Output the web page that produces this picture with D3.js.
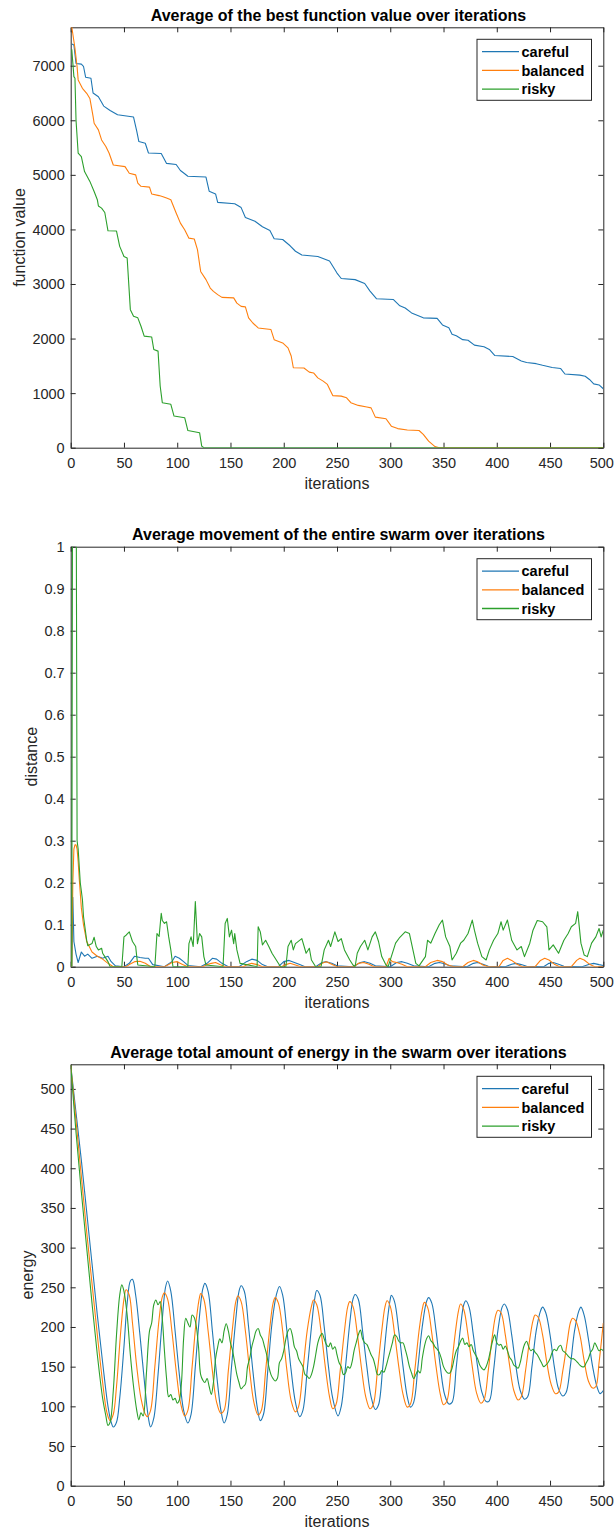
<!DOCTYPE html>
<html>
<head>
<meta charset="utf-8">
<script src="https://cdn.jsdelivr.net/npm/d3@7"></script>
<style>
  body { margin: 0; background: #fff; }
  svg { display: block; font-family: "Liberation Sans", Arial, Helvetica, sans-serif; }
</style>
</head>
<body>
<div id="chart"></div>
<script>
// series / legend
const seriesNames = ["careful", "balanced", "risky"];
const seriesColors = ["#1f77b4", "#ff7f0e", "#2ca02c"];

// tick labels
const iterTicks = [0, 50, 100, 150, 200, 250, 300, 350, 400, 450, 500];
const fnTicks = [0, 1000, 2000, 3000, 4000, 5000, 6000, 7000];
const distTicks = [0, 0.1, 0.2, 0.3, 0.4, 0.5, 0.6, 0.7, 0.8, 0.9, 1];
const energyTicks = [0, 50, 100, 150, 200, 250, 300, 350, 400, 450, 500];

// panel 1: best function value  [iteration, value]
const fnCareful = [[1,7400],[3,7380],[5,7040],[10,7030],[12,6990],[14,6790],[19,6770],[21,6500],[26,6430],[31,6260],[37,6180],[44,6100],[59,6060],[62,5800],[64,5610],[70,5580],[73,5400],[85,5390],[90,5210],[99,5190],[103,5080],[107,5020],[110,4975],[127,4960],[130,4700],[136,4650],[138,4495],[154,4470],[160,4400],[164,4220],[173,4150],[180,4050],[187,3980],[191,3830],[199,3815],[206,3700],[211,3600],[217,3530],[232,3505],[243,3420],[250,3200],[254,3100],[267,3080],[276,3010],[281,2870],[287,2730],[303,2715],[309,2600],[314,2560],[320,2470],[331,2380],[344,2370],[349,2250],[355,2200],[358,2080],[362,2050],[368,1980],[373,1970],[379,1880],[388,1850],[393,1800],[398,1690],[415,1670],[423,1590],[428,1560],[437,1540],[443,1510],[452,1470],[460,1450],[464,1350],[478,1330],[483,1310],[487,1250],[491,1170],[496,1150],[500,1080]];
const fnBalanced = [[1,7710],[4,7320],[6,6980],[7,6740],[11,6585],[15,6495],[18,6400],[21,6070],[22,5945],[26,5825],[29,5640],[33,5520],[36,5400],[40,5180],[51,5150],[55,5030],[61,5000],[63,4850],[66,4790],[74,4775],[76,4650],[83,4620],[86,4605],[90,4575],[94,4545],[99,4300],[103,4115],[107,3995],[111,3840],[116,3825],[119,3630],[122,3230],[127,3080],[131,2925],[134,2865],[138,2805],[142,2755],[153,2745],[156,2650],[160,2590],[164,2580],[167,2380],[171,2285],[176,2195],[188,2165],[191,1980],[199,1920],[204,1830],[207,1680],[209,1465],[219,1460],[224,1385],[228,1370],[232,1280],[237,1220],[241,1160],[246,955],[254,945],[259,915],[263,825],[270,775],[278,745],[282,730],[286,560],[296,530],[301,395],[307,350],[316,325],[327,315],[331,245],[336,120],[342,20],[346,0],[500,0]];
const fnRisky = [[1,7300],[3,6800],[4,6770],[5,6000],[7,5400],[10,5335],[13,5060],[15,4990],[18,4880],[22,4695],[25,4545],[26,4430],[29,4390],[32,4310],[35,3975],[43,3970],[46,3690],[50,3505],[53,3475],[56,2530],[59,2410],[63,2380],[66,2225],[69,2045],[76,2030],[78,1800],[82,1770],[84,1130],[86,825],[94,795],[97,580],[107,550],[110,315],[121,275],[123,30],[125,0],[500,0]];

// panel 2: swarm movement  [iteration, distance]
const distCareful = [[1,0],[2,0.165],[3,0.06],[5,0.03],[7,0.01],[10,0.035],[13,0.025],[16,0.03],[20,0.02],[25,0.025],[30,0.02],[35,0.025],[38,0.012],[42,0.002],[50,0],[55,0.008],[60,0.025],[65,0.022],[70,0.02],[73,0.02],[77,0.005],[88,0],[95,0.012],[98,0.025],[102,0.02],[106,0.012],[110,0.003],[122,0],[128,0.008],[133,0.02],[137,0.018],[142,0.008],[148,0],[158,0],[165,0.012],[170,0.018],[175,0.015],[180,0.005],[185,0],[195,0],[200,0.012],[205,0.015],[210,0.01],[215,0.005],[220,0],[230,0],[236,0.01],[240,0.012],[245,0.008],[250,0.002],[265,0],[272,0.01],[276,0.012],[281,0.008],[286,0.002],[300,0],[306,0.01],[311,0.012],[316,0.008],[322,0.002],[336,0],[342,0.008],[346,0.01],[351,0.007],[356,0.002],[372,0],[378,0.008],[382,0.01],[387,0.006],[392,0.001],[408,0],[414,0.006],[418,0.008],[423,0.005],[428,0.001],[444,0],[449,0.008],[453,0.01],[458,0.006],[463,0.001],[480,0],[487,0.006],[491,0.008],[496,0.005],[500,0.003]];
const distBalanced = [[1,0],[2,0.2],[3,0.28],[4,0.29],[5,0.29],[6,0.28],[7,0.25],[8,0.21],[10,0.14],[12,0.1],[15,0.06],[20,0.035],[25,0.025],[30,0.018],[35,0.008],[40,0],[52,0],[55,0.005],[60,0.012],[65,0.013],[70,0.008],[75,0],[88,0],[92,0.005],[95,0.01],[100,0.012],[105,0.005],[110,0],[124,0],[128,0.005],[132,0.008],[136,0.01],[140,0.005],[145,0],[162,0],[166,0.005],[170,0.008],[175,0.005],[180,0],[198,0],[202,0.005],[206,0.008],[211,0.004],[216,0],[232,0],[236,0.008],[240,0.012],[245,0.006],[250,0],[266,0],[270,0.008],[275,0.01],[280,0.006],[285,0],[296,0],[299,0.02],[302,0.012],[306,0.01],[311,0.006],[316,0],[333,0],[338,0.01],[344,0.015],[349,0.012],[354,0.004],[360,0],[368,0],[373,0.01],[378,0.015],[382,0.012],[387,0.004],[392,0],[402,0],[406,0.015],[410,0.02],[414,0.015],[419,0.006],[424,0],[436,0],[441,0.015],[445,0.02],[449,0.016],[454,0.006],[459,0],[470,0],[475,0.015],[478,0.02],[482,0.016],[487,0.006],[492,0],[500,0]];
const distRisky = [[1,0],[2,1.6],[3,1.8],[4,1.5],[5,1.3],[6,0.3],[7,0.28],[9,0.2],[11,0.16],[12,0.12],[15,0.063],[16,0.05],[20,0.055],[22,0.07],[24,0.048],[26,0.04],[29,0.044],[30,0.032],[32,0.024],[35,0.012],[37,0],[48,0],[50,0.071],[52,0.075],[55,0.083],[58,0.06],[61,0.048],[62,0.024],[63,0.004],[79,0],[81,0.079],[83,0.072],[85,0.127],[86,0.11],[88,0.103],[90,0.107],[92,0.071],[94,0.04],[96,0],[110,0],[111,0.055],[113,0.071],[115,0.048],[117,0.155],[119,0.055],[121,0.079],[123,0.071],[125,0.024],[127,0.004],[143,0],[145,0.103],[147,0.115],[149,0.071],[151,0.087],[153,0.055],[154,0.079],[156,0.04],[159,0.008],[175,0],[176,0.095],[178,0.083],[180,0.052],[183,0.063],[186,0.048],[189,0.032],[193,0.016],[197,0],[202,0],[204,0.048],[207,0.063],[209,0.04],[211,0.055],[217,0.067],[221,0.032],[224,0.044],[226,0.016],[230,0],[235,0],[238,0.04],[242,0.063],[244,0.048],[248,0.083],[251,0.06],[254,0.067],[257,0.04],[262,0.016],[265,0.004],[267,0],[269,0.032],[272,0.048],[276,0.063],[279,0.04],[283,0.071],[286,0.083],[289,0.06],[292,0.024],[296,0.004],[298,0],[301,0.024],[305,0.056],[309,0.07],[314,0.083],[318,0.079],[322,0.032],[324,0.008],[327,0.002],[333,0.024],[335,0.063],[338,0.056],[342,0.079],[346,0.1],[349,0.111],[352,0.071],[356,0.048],[358,0.016],[362,0.032],[366,0.056],[369,0.063],[373,0.079],[377,0.111],[379,0.087],[382,0.056],[386,0.024],[390,0.016],[393,0.04],[397,0.063],[401,0.079],[404,0.107],[406,0.087],[410,0.111],[414,0.063],[419,0.04],[423,0.048],[426,0.024],[431,0.056],[434,0.087],[438,0.11],[443,0.107],[447,0.095],[449,0.04],[453,0.052],[458,0.032],[463,0.063],[467,0.079],[470,0.095],[474,0.103],[476,0.131],[479,0.056],[482,0.028],[485,0.024],[489,0.056],[493,0.071],[496,0.091],[498,0.071],[500,0.087]];

// panel 3: swarm energy  [iteration, energy]
const energyCareful = [[0,530],[5,470],[10,410],[15,345],[20,280],[25,215],[30,155],[35,100],[38,80],[40,74],[43,80],[46,110],[50,175],[53,230],[56,258],[58,260],[61,240],[65,190],[70,120],[73,85],[75,74],[78,85],[82,140],[86,210],[89,250],[91,258],[94,245],[98,195],[102,140],[106,95],[110,79],[113,90],[117,150],[121,215],[124,248],[126,255],[129,245],[133,195],[137,140],[141,95],[144,79],[147,90],[151,150],[155,210],[158,245],[160,252],[163,245],[167,200],[171,145],[175,100],[178,82],[181,90],[185,145],[189,205],[193,240],[196,251],[199,240],[203,195],[207,145],[211,105],[215,87],[218,95],[222,145],[226,200],[229,235],[231,246],[234,240],[238,200],[242,150],[246,110],[251,88],[254,100],[258,150],[262,205],[265,235],[267,241],[270,235],[274,195],[278,150],[282,112],[286,96],[289,102],[293,150],[297,205],[300,235],[301,240],[304,232],[308,195],[312,150],[316,112],[319,99],[322,105],[326,150],[330,200],[334,232],[336,237],[339,230],[343,195],[347,150],[351,115],[355,103],[358,105],[362,150],[366,200],[369,228],[371,233],[374,225],[378,190],[382,150],[386,118],[390,106],[393,107],[397,145],[401,195],[405,225],[407,229],[410,222],[414,190],[418,150],[422,120],[426,109],[429,112],[433,150],[437,195],[441,220],[443,225],[446,218],[450,190],[454,150],[458,122],[462,113],[465,117],[469,150],[473,195],[477,220],[479,225],[482,215],[486,185],[490,150],[494,125],[497,116],[500,120]];
const energyBalanced = [[0,530],[5,460],[10,390],[15,320],[20,255],[25,190],[30,130],[34,92],[37,82],[40,90],[43,125],[47,195],[50,235],[52,247],[55,240],[58,205],[62,150],[66,110],[70,90],[72,87],[75,95],[79,150],[83,210],[86,238],[88,243],[91,235],[95,195],[99,145],[103,105],[107,88],[110,95],[114,150],[118,210],[121,238],[122,242],[125,235],[129,195],[133,145],[137,105],[141,91],[144,95],[148,145],[152,200],[155,232],[157,239],[160,232],[164,195],[168,145],[172,105],[176,89],[179,95],[183,145],[187,200],[190,230],[192,237],[195,230],[199,195],[203,145],[207,107],[211,93],[214,100],[218,145],[222,195],[226,226],[228,234],[231,228],[235,195],[239,150],[243,112],[246,97],[249,102],[253,145],[257,195],[260,225],[262,232],[265,226],[269,192],[273,148],[277,112],[281,97],[284,102],[288,145],[292,195],[295,225],[297,233],[300,226],[304,192],[308,150],[312,115],[316,99],[319,103],[323,145],[327,195],[330,222],[332,231],[335,225],[339,192],[343,150],[347,115],[350,102],[353,106],[357,145],[361,192],[364,220],[366,229],[369,222],[373,190],[377,150],[381,117],[385,104],[388,108],[392,145],[396,190],[399,215],[401,221],[404,218],[408,190],[412,152],[416,120],[420,108],[423,112],[427,145],[431,185],[434,208],[436,215],[439,212],[443,190],[447,155],[451,128],[455,116],[458,118],[462,145],[466,180],[469,205],[471,211],[474,208],[478,190],[482,158],[486,132],[490,123],[493,125],[496,155],[500,205]];
const energyRisky = [[0,530],[5,445],[10,370],[15,300],[20,230],[25,165],[30,110],[33,88],[35,76],[37,80],[40,120],[43,190],[46,240],[48,253],[50,245],[53,215],[56,165],[59,125],[62,95],[64,83],[66,92],[68,88],[71,140],[74,195],[76,205],[78,228],[80,234],[82,228],[84,232],[86,210],[88,170],[90,135],[92,112],[94,115],[96,108],[98,110],[100,104],[102,108],[104,130],[106,185],[108,211],[110,205],[112,200],[114,215],[116,212],[118,200],[120,175],[122,140],[124,133],[126,130],[128,135],[130,125],[132,115],[134,130],[136,160],[138,175],[140,185],[142,180],[144,195],[146,204],[148,195],[150,180],[152,170],[154,155],[156,140],[158,130],[160,122],[162,125],[164,128],[166,150],[168,160],[170,175],[172,185],[174,195],[176,198],[178,190],[180,185],[182,175],[184,165],[186,150],[188,140],[190,135],[192,132],[194,135],[196,155],[198,160],[200,170],[202,185],[204,195],[206,198],[208,190],[210,175],[212,170],[214,160],[216,155],[218,150],[220,140],[222,138],[224,135],[226,140],[228,150],[230,165],[232,180],[234,188],[236,192],[238,185],[240,178],[242,175],[244,180],[246,172],[248,175],[250,165],[252,155],[254,150],[256,140],[258,142],[260,150],[262,148],[264,155],[266,170],[268,180],[270,190],[272,196],[274,185],[276,180],[278,178],[280,172],[282,165],[284,160],[286,150],[288,140],[290,140],[292,145],[294,143],[296,150],[298,160],[300,170],[302,180],[304,190],[306,188],[308,182],[310,180],[312,180],[314,172],[316,162],[318,150],[320,142],[322,135],[324,140],[326,145],[328,142],[330,160],[332,175],[334,185],[336,189],[338,183],[340,180],[342,175],[344,172],[346,168],[348,160],[350,150],[352,145],[354,142],[356,142],[358,148],[360,160],[362,170],[364,175],[366,182],[368,186],[370,178],[372,180],[374,175],[376,178],[378,170],[380,165],[382,160],[384,152],[386,148],[388,146],[390,150],[392,158],[394,170],[396,182],[398,190],[400,180],[402,177],[404,178],[406,172],[408,176],[410,170],[412,162],[414,158],[416,152],[418,150],[420,148],[422,155],[424,168],[426,178],[428,182],[430,175],[432,170],[434,172],[436,168],[438,165],[440,160],[442,155],[444,150],[446,152],[448,155],[450,160],[452,168],[454,172],[456,170],[458,175],[460,177],[462,170],[464,168],[466,165],[468,162],[470,160],[472,160],[474,158],[476,155],[478,152],[480,150],[482,150],[484,155],[486,160],[488,168],[490,172],[492,180],[494,175],[496,170],[498,172],[500,170]];

const width = 614, height = 1530;
const axisColor = "#262626";

const svg = d3.select("#chart").append("svg")
    .attr("width", width)
    .attr("height", height);

svg.append("rect").attr("width", width).attr("height", height).attr("fill", "#fff");

class IterationPanel {
    constructor(id, opts) {
        this.opts = opts;
        this.left = 70.7;
        this.right = 603.3;
        this.top = opts.top;
        this.bottom = opts.bottom;

        this.x = d3.scaleLinear().domain([0, 500]).range([this.left, this.right]);
        this.y = d3.scaleLinear().domain([0, opts.yMax]).range([this.bottom, this.top]);

        this.g = svg.append("g").attr("class", id);

        this.g.append("clipPath").attr("id", "clip-" + id)
            .append("rect")
            .attr("x", this.left).attr("y", this.top)
            .attr("width", this.right - this.left).attr("height", this.bottom - this.top);

        this.drawAxes();
        this.drawLines(id);
        this.drawLegend();
    }

    styleAxis(sel) {
        sel.selectAll("path.domain").attr("stroke", axisColor).attr("stroke-width", 1);
        sel.selectAll(".tick line").attr("stroke", axisColor).attr("stroke-width", 1);
        sel.selectAll(".tick text").attr("fill", axisColor).style("font-size", "14.5px");
    }

    drawAxes() {
        const o = this.opts;
        const xb = this.g.append("g")
            .attr("transform", `translate(0,${this.bottom})`)
            .call(d3.axisBottom(this.x).tickValues(iterTicks).tickSize(-5).tickSizeOuter(0).tickPadding(10.5));
        const xt = this.g.append("g")
            .attr("transform", `translate(0,${this.top})`)
            .call(d3.axisTop(this.x).tickValues(iterTicks).tickSize(-5).tickSizeOuter(0).tickFormat(""));
        const yl = this.g.append("g")
            .attr("transform", `translate(${this.left},0)`)
            .call(d3.axisLeft(this.y).tickValues(o.ticks).tickSize(-5).tickSizeOuter(0).tickPadding(6).tickFormat(d3.format("~g")));
        const yr = this.g.append("g")
            .attr("transform", `translate(${this.right},0)`)
            .call(d3.axisRight(this.y).tickValues(o.ticks).tickSize(-5).tickSizeOuter(0).tickFormat(""));
        [xb, xt, yl, yr].forEach(a => this.styleAxis(a));
        yl.selectAll(".tick text").attr("dy", null).attr("y", 5);
        // keep the last x label inside the page, as in the reference
        xb.selectAll(".tick text").filter(d => d === 500).attr("x", -2);

        // title
        this.g.append("text")
            .attr("x", (this.left + this.right) / 2 + 1.5)
            .attr("y", this.top - 6.6)
            .attr("text-anchor", "middle")
            .attr("font-weight", "bold")
            .attr("font-size", "16px")
            .attr("fill", "#000")
            .text(o.title);

        // x label
        this.g.append("text")
            .attr("x", (this.left + this.right) / 2)
            .attr("y", this.bottom + 41)
            .attr("text-anchor", "middle")
            .attr("font-size", "16px")
            .attr("fill", axisColor)
            .text("iterations");

        // y label, placed left of the widest tick label
        const labelLeft = d3.min(yl.selectAll(".tick text").nodes(), n => n.getBBox().x) + this.left;
        this.g.append("text")
            .attr("transform", `translate(${labelLeft - 7.5},${(this.top + this.bottom) / 2}) rotate(-90)`)
            .attr("text-anchor", "middle")
            .attr("font-size", "16px")
            .attr("fill", axisColor)
            .text(o.yLabel);
    }

    drawLines(id) {
        const line = d3.line()
            .x(d => this.x(d[0]))
            .y(d => this.y(d[1]))
            .curve(this.opts.curve || d3.curveLinear);
        const plot = this.g.append("g").attr("clip-path", `url(#clip-${id})`);
        this.opts.series.forEach((s, i) => {
            plot.append("path")
                .datum(s)
                .attr("fill", "none")
                .attr("stroke", seriesColors[i])
                .attr("stroke-width", 1.1)
                .attr("stroke-linejoin", "round")
                .attr("d", line);
        });
    }

    drawLegend() {
        const lx = 477, lw = 114.5, lh = 61;
        const ly = this.top + 12;
        const legend = this.g.append("g").attr("transform", `translate(${lx},${ly})`);
        legend.append("rect")
            .attr("x", 0).attr("y", 0).attr("width", lw).attr("height", lh)
            .attr("fill", "#fff").attr("stroke", axisColor).attr("stroke-width", 1);
        seriesNames.forEach((name, i) => {
            const cy = 12.4 + i * 18.7;
            legend.append("line")
                .attr("x1", 5).attr("x2", 42).attr("y1", cy).attr("y2", cy)
                .attr("stroke", seriesColors[i]).attr("stroke-width", 1.3);
            legend.append("text")
                .attr("x", 44.5).attr("y", cy + 5.2)
                .attr("font-weight", "bold")
                .attr("font-size", "14.5px")
                .attr("fill", "#000")
                .text(name);
        });
    }
}

new IterationPanel("fn", {
    top: 27.3, bottom: 447.7, yMax: 7704, ticks: fnTicks,
    title: "Average of the best function value over iterations",
    yLabel: "function value",
    series: [fnCareful, fnBalanced, fnRisky]
});

new IterationPanel("dist", {
    top: 546.7, bottom: 966.7, yMax: 1, ticks: distTicks,
    title: "Average movement of the entire swarm over iterations",
    yLabel: "distance",
    series: [distCareful, distBalanced, distRisky]
});

new IterationPanel("energy", {
    top: 1064.3, bottom: 1485.7, yMax: 531, ticks: energyTicks,
    title: "Average total amount of energy in the swarm over iterations",
    yLabel: "energy",
    series: [energyCareful, energyBalanced, energyRisky],
    curve: d3.curveCatmullRom
});
</script>
</body>
</html>
